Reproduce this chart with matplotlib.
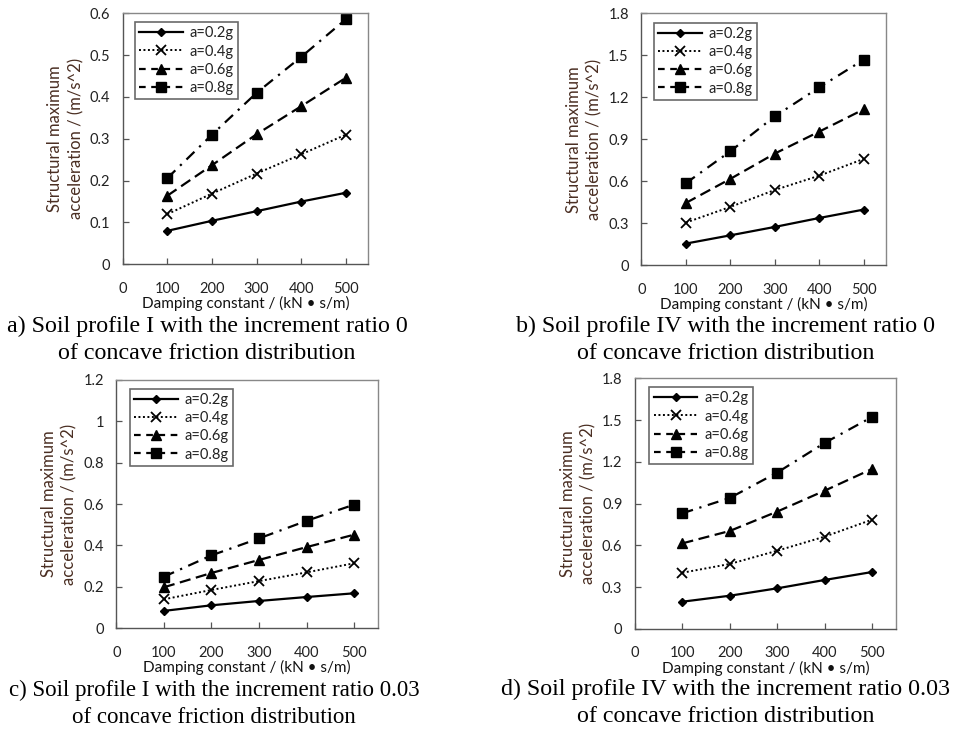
import matplotlib
matplotlib.use("Agg")
import matplotlib.pyplot as plt
from matplotlib.lines import Line2D

W, H = 958, 731

damping = [100, 200, 300, 400, 500]
series_labels = ["a=0.2g", "a=0.4g", "a=0.6g", "a=0.8g"]

# Panel a: Soil profile I, increment ratio 0
a_02 = [0.080, 0.104, 0.127, 0.150, 0.171]
a_04 = [0.120, 0.169, 0.217, 0.263, 0.310]
a_06 = [0.164, 0.237, 0.311, 0.378, 0.446]
a_08 = [0.206, 0.310, 0.410, 0.496, 0.586]

# Panel b: Soil profile IV, increment ratio 0
b_02 = [0.155, 0.214, 0.274, 0.338, 0.398]
b_04 = [0.305, 0.417, 0.538, 0.640, 0.760]
b_06 = [0.445, 0.617, 0.798, 0.955, 1.114]
b_08 = [0.586, 0.814, 1.064, 1.271, 1.469]

# Panel c: Soil profile I, increment ratio 0.03
c_02 = [0.084, 0.111, 0.132, 0.151, 0.169]
c_04 = [0.140, 0.185, 0.228, 0.270, 0.314]
c_06 = [0.198, 0.267, 0.330, 0.392, 0.452]
c_08 = [0.249, 0.352, 0.434, 0.519, 0.597]

# Panel d: Soil profile IV, increment ratio 0.03
d_02 = [0.196, 0.239, 0.292, 0.352, 0.409]
d_04 = [0.404, 0.467, 0.562, 0.663, 0.785]
d_06 = [0.615, 0.704, 0.843, 0.993, 1.149]
d_08 = [0.831, 0.941, 1.123, 1.336, 1.522]

x_ticks = [0, 100, 200, 300, 400, 500]
yticks_a = [0, 0.1, 0.2, 0.3, 0.4, 0.5, 0.6]
yticks_b = [0, 0.3, 0.6, 0.9, 1.2, 1.5, 1.8]
yticks_c = [0, 0.2, 0.4, 0.6, 0.8, 1.0, 1.2]
yticks_d = [0, 0.3, 0.6, 0.9, 1.2, 1.5, 1.8]
ytl_a = ["0", "0.1", "0.2", "0.3", "0.4", "0.5", "0.6"]
ytl_b = ["0", "0.3", "0.6", "0.9", "1.2", "1.5", "1.8"]
ytl_c = ["0", "0.2", "0.4", "0.6", "0.8", "1", "1.2"]
ytl_d = ["0", "0.3", "0.6", "0.9", "1.2", "1.5", "1.8"]

xlabel = "Damping constant / (kN \u2022 s/m)"
ylabel = "Structural maximum\nacceleration / (m/s^2)"

captions = [
    "a) Soil profile I with the increment ratio 0\nof concave friction distribution",
    "b) Soil profile IV with the increment ratio 0\nof concave friction distribution",
    "c) Soil profile I with the increment ratio 0.03\nof concave friction distribution",
    "d) Soil profile IV with the increment ratio 0.03\nof concave friction distribution",
]

SANS = ["Lato", "DejaVu Sans"]
SERIF = ["Liberation Serif", "DejaVu Serif"]

styles = [
    dict(linestyle="-", marker="D", markersize=4.5, lw=1.6),
    dict(linestyle=(0, (1, 1.3)), marker="x", markersize=6.5, lw=1.4, markeredgewidth=1.3),
    dict(linestyle=(0, (5, 2.5)), marker="^", markersize=7, lw=1.6),
    dict(linestyle=(0, (5, 3, 1, 3)), marker="s", markersize=6.5, lw=1.6),
]
legend_ls = ["-", (0, (1, 1.3)), (0, (3, 2.5)), (0, (3, 2.5))]

fig = plt.figure(figsize=(W / 100, H / 100), dpi=100)

def px_axes(left, top, right, bottom):
    return fig.add_axes([left / W, 1 - bottom / H, (right - left) / W, (bottom - top) / H])

panels = [
    dict(rect=(122.7, 13.3, 368.3, 264.3), data=[a_02, a_04, a_06, a_08], yt=yticks_a, ytl=ytl_a,
         ylim=0.6, cap=(207, 340, 17.3), leg=(0.05, 0.965)),
    dict(rect=(641.3, 13.3, 886.0, 265.3), data=[b_02, b_04, b_06, b_08], yt=yticks_b, ytl=ytl_b,
         ylim=1.8, cap=(725.5, 340, 17.3), leg=(0.052, 0.962)),
    dict(rect=(116.3, 379.7, 378.0, 628.3), data=[c_02, c_04, c_06, c_08], yt=yticks_c, ytl=ytl_c,
         ylim=1.2, cap=(214, 704, 16.5), leg=(0.052, 0.963)),
    dict(rect=(635.0, 378.3, 895.7, 629.0), data=[d_02, d_04, d_06, d_08], yt=yticks_d, ytl=ytl_d,
         ylim=1.8, cap=(725.3, 703, 17.3), leg=(0.055, 0.965)),
]

for i, p in enumerate(panels):
    l, t, r, b = p["rect"]
    ax = px_axes(l, t, r, b)
    for j, (vals, st) in enumerate(zip(p["data"], styles)):
        ax.plot(damping, vals, color="black", label=series_labels[j],
                markerfacecolor="black", markeredgecolor="black", **st)
    ax.set_xlim(0, 550)
    ax.set_ylim(0, p["ylim"])
    ax.set_xticks(x_ticks)
    ax.set_xticklabels([str(v) for v in x_ticks], fontfamily=SANS, fontsize=10.5, color="#222222")
    ax.set_yticks(p["yt"])
    ax.set_yticklabels(p["ytl"], fontfamily=SANS, fontsize=10.5, color="#222222")
    ax.tick_params(axis="both", direction="in", length=4, width=0.9, color="#555555")
    ax.tick_params(axis="x", pad=12.5)
    ax.tick_params(axis="y", pad=9)
    for side, sp in ax.spines.items():
        sp.set_color("#555555" if side in ("left", "bottom") else "#888888")
        sp.set_linewidth(1.0)
    ax.set_xlabel(xlabel, fontfamily=SANS, fontsize=11, color="#111111", labelpad=0.5)
    ax.set_ylabel(ylabel, fontfamily=SANS, fontsize=12, color="#4a2e22", labelpad=4,
                  linespacing=1.35)
    proxies = []
    for j, st in enumerate(styles):
        kw = dict(st)
        kw["linestyle"] = legend_ls[j]
        proxies.append(Line2D([], [], color="black", markerfacecolor="black",
                              markeredgecolor="black", **kw))
    leg = ax.legend(proxies, series_labels, loc="upper left", bbox_to_anchor=p["leg"],
                    borderaxespad=0, frameon=True, fancybox=False, handlelength=3.0,
                    handletextpad=0.45, labelspacing=0.28, borderpad=0.3,
                    prop={"family": SANS, "size": 10.5})
    leg.get_frame().set_edgecolor("#444444")
    leg.get_frame().set_linewidth(1.2)
    for txt in leg.get_texts():
        txt.set_color("#222222")
    cx, cy, fs = p["cap"]
    fig.text(cx / W, 1 - cy / H, captions[i], ha="center", va="center", fontfamily=SERIF,
             fontsize=fs, linespacing=1.4, color="black")

fig.savefig("out.png", dpi=100)
